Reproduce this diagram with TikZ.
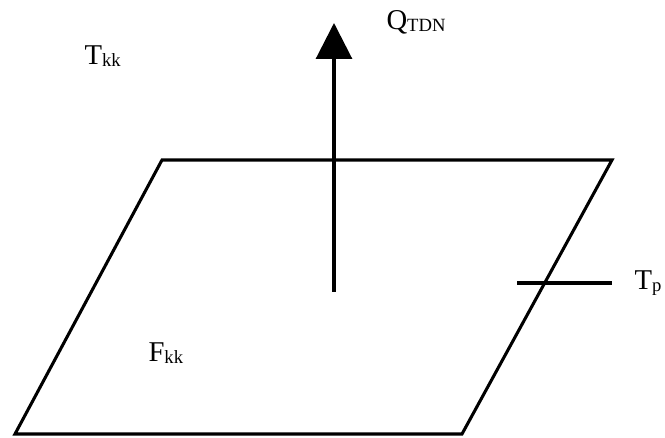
\documentclass[tikz,border=0pt]{standalone}
\usepackage{fontspec}
\setmainfont{Liberation Serif}
\usetikzlibrary{arrows.meta}
\newcommand{\symsub}[2]{{\fontsize{21.5}{24}\selectfont #1}{\fontsize{14}{16}\selectfont\raisebox{-1.5pt}{#2}}}

\begin{document}
\begin{tikzpicture}[x=0.75pt, y=-0.75pt, line width=2.3pt, >={Triangle[length=27pt,width=27pt]},
    lbl/.style={anchor=base west, inner sep=0pt}]
  \useasboundingbox (0,0) rectangle (665,438);
  % plate
  \coordinate (bl) at (15,434);
  \coordinate (tl) at (162,160);
  \coordinate (tr) at (612,160);
  \coordinate (br) at (462,434);
  \draw[line join=miter] (bl) -- (tl) -- (tr) -- (br) -- cycle;
  % heat flow
  \coordinate (qbase) at (334,292);
  \coordinate (qtip) at (334,23);
  \draw[->] (qbase) -- (qtip);
  % surface temperature probe
  \coordinate (pin) at (517,283);
  \coordinate (pout) at (612,283);
  \draw (pin) -- (pout);
  % labels
  \node[lbl] (qlbl) at (385,30) {\symsub{Q}{TDN}};
  \node[lbl] (tkk) at (83,65) {\symsub{T}{kk}};
  \node[lbl] (tp) at (633,290) {\symsub{T}{p}};
  \node[lbl] (fkk) at (147,362) {\symsub{F}{kk}};
\end{tikzpicture}
\end{document}
